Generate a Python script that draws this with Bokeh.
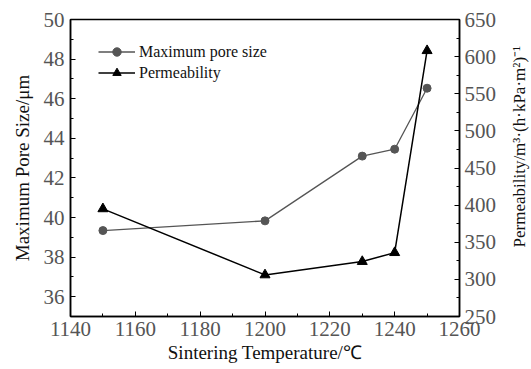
import math
from bokeh.plotting import figure
from bokeh.layouts import row
from bokeh.models import Range1d, LinearAxis, Legend, LegendItem, FixedTicker, Label
from bokeh.embed import file_html
from bokeh.resources import INLINE

temperature = [1150, 1200, 1230, 1240, 1250]
pore_size = [39.34, 39.83, 43.1, 43.45, 46.53]
permeability = [395, 306, 324, 336, 608]

x_ticks = [1140, 1160, 1180, 1200, 1220, 1240, 1260]
left_ticks = [36, 38, 40, 42, 44, 46, 48, 50]
right_ticks = [250, 300, 350, 400, 450, 500, 550, 600, 650]

x_label = "Sintering Temperature/\u2103"
left_label = "Maximum Pore Size/\u03bcm"
right_label = "Permeability/m\u00b3\u00b7(h\u00b7kPa\u00b7m\u00b2)\u207b\u00b9"

FONT = "'Liberation Serif', 'Times New Roman', serif"

p = figure(width=506, height=369, output_backend="svg", toolbar_location=None,
           x_range=Range1d(1140, 1260), y_range=Range1d(35, 50),
           min_border_left=70, min_border_right=47, min_border_top=19, min_border_bottom=53)
p.extra_y_ranges = {"perm": Range1d(250, 650)}
p.grid.visible = False
p.outline_line_color = "black"
p.outline_line_width = 1.5
p.background_fill_color = "white"
p.border_fill_color = "white"

right_axis = LinearAxis(y_range_name="perm")
p.add_layout(right_axis, "right")

def style_axis(ax, ticks, label, minor):
    ax.ticker = FixedTicker(ticks=ticks, minor_ticks=minor)
    ax.axis_label = label
    ax.axis_label_text_font = FONT
    ax.axis_label_text_font_style = "normal"
    ax.axis_label_text_font_size = "19px"
    ax.axis_label_text_color = "#111111"
    ax.major_label_text_font = FONT
    ax.major_label_text_font_size = "21px"
    ax.major_label_text_color = "#555555"
    ax.axis_line_color = "black"
    ax.axis_line_width = 1.5
    ax.major_tick_in = 5
    ax.major_tick_out = 0
    ax.minor_tick_in = 3
    ax.minor_tick_out = 0
    ax.major_tick_line_color = "black"
    ax.minor_tick_line_color = "black"
    ax.major_label_standoff = 5
    ax.axis_label_standoff = 3

style_axis(p.xaxis[0], x_ticks, x_label, [1150 + 20 * i for i in range(6)])
style_axis(p.yaxis[0], left_ticks, left_label, [35 + 2 * i for i in range(8)])
style_axis(right_axis, right_ticks, None, [275 + 50 * i for i in range(8)])
p.yaxis[0].major_label_standoff = 6
p.yaxis[0].axis_label_standoff = 8

l1 = p.line(temperature, pore_size, line_color="#555555", line_width=1.3)
c1 = p.scatter(temperature, pore_size, marker="circle", size=8, fill_color="#555555", line_color="#555555")
l2 = p.line(temperature, permeability, y_range_name="perm", line_color="black", line_width=1.5)
c2 = p.scatter(temperature, permeability, y_range_name="perm", marker="triangle", size=10,
               fill_color="black", line_color="black")

legend = Legend(items=[LegendItem(label="Maximum pore size", renderers=[l1, c1]),
                       LegendItem(label="Permeability", renderers=[l2, c2])],
                location=(28, 233))
legend.border_line_color = None
legend.background_fill_alpha = 0
legend.label_text_font = FONT
legend.label_text_font_size = "16px"
legend.label_text_color = "#111111"
legend.glyph_width = 37
legend.spacing = 0
legend.label_standoff = 4
legend.padding = 0
legend.margin = 0
legend.label_height = 21
legend.glyph_height = 21
p.add_layout(legend)

# narrow strip on the right holding the right-hand axis title (reads bottom-to-top)
t = figure(width=25, height=369, output_backend="svg", toolbar_location=None,
           x_range=Range1d(0, 25), y_range=Range1d(0, 369),
           min_border=0, min_border_left=0, min_border_right=0, min_border_top=0, min_border_bottom=0)
t.axis.visible = False
t.grid.visible = False
t.outline_line_color = None
t.background_fill_color = "white"
t.border_fill_color = "white"
t.add_layout(Label(x=13, y=369 - 158, text=right_label, angle=math.pi / 2,
                   text_align="center", text_baseline="middle",
                   text_font=FONT, text_font_size="17px", text_color="#111111"))

layout = row(p, t, spacing=0)
open("out.html", "w").write(file_html(layout, INLINE))
